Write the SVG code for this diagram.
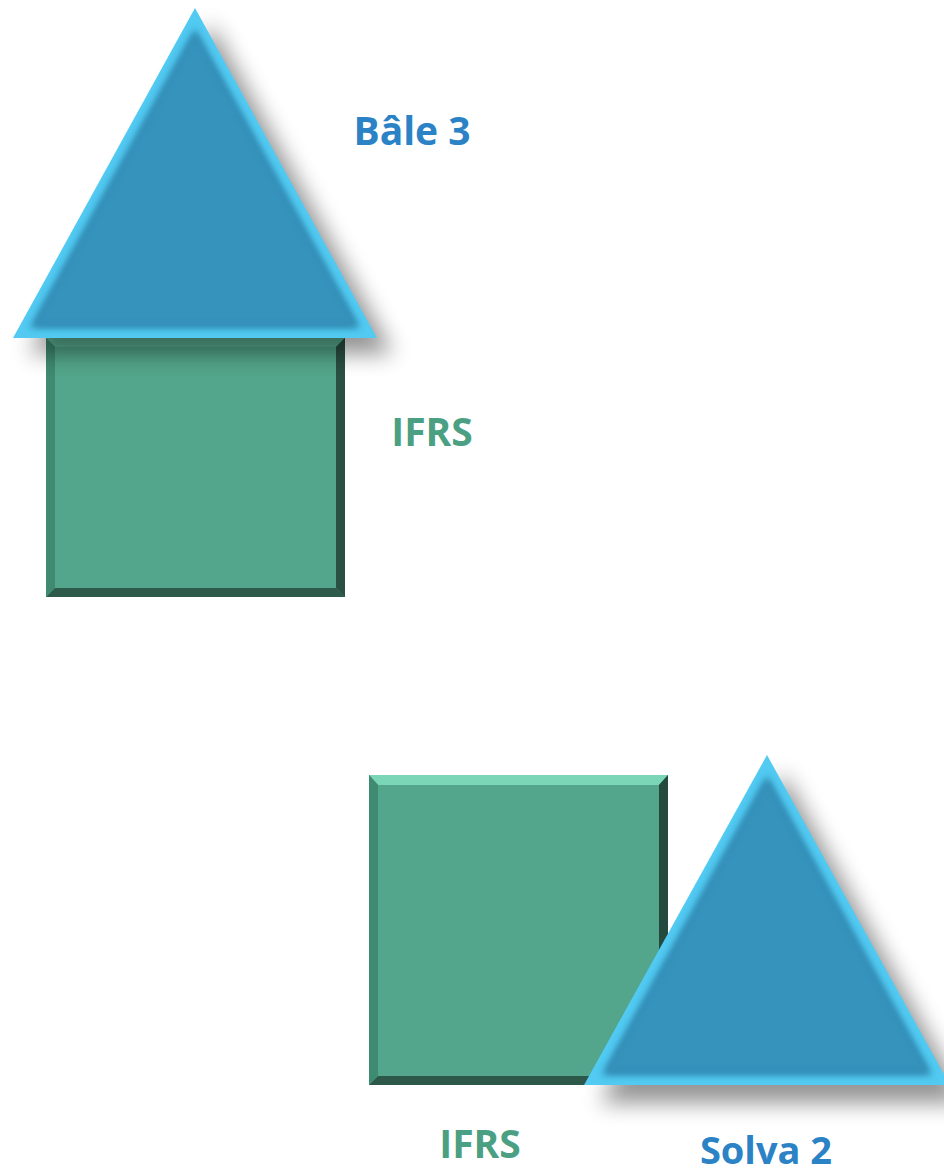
<svg xmlns="http://www.w3.org/2000/svg" width="944" height="1175" viewBox="0 0 944 1175">
<style>
.lbl{font-family:"Open Sans","Liberation Sans",sans-serif;font-weight:bold;font-size:39px;text-anchor:middle}
.blue{fill:#2b83c6}
.green{fill:#4b9f82}
.triOut{fill:#52caf2}
.triIn{fill:#3593bc}
.sqFace{fill:#53a68b}
</style>
<defs>
<filter id="shadow" x="-25%" y="-25%" width="160%" height="160%">
<feGaussianBlur stdDeviation="11"/>
</filter>
<filter id="soft" x="-10%" y="-10%" width="120%" height="120%">
<feGaussianBlur stdDeviation="3.5"/>
</filter>
<clipPath id="clipT1"><polygon points="195,8 13,338 377,338"/></clipPath>
<clipPath id="clipT2"><polygon points="767,755 584,1085 950,1085"/></clipPath>
</defs>
<rect width="944" height="1175" fill="#ffffff"/>

<g id="square-top">
<rect x="46" y="338" width="299" height="259" fill="#3f8a71"/>
<polygon points="46,338 345,338 336,347 55,347" fill="#5fb89a"/>
<polygon points="345,338 345,597 336,588 336,347" fill="#2a4f43"/>
<polygon points="46,597 345,597 336,588 55,588" fill="#2e5a4b"/>
<polygon points="46,338 55,347 55,588 46,597" fill="#3f8a71"/>
<rect x="55" y="347" width="281" height="241" class="sqFace"/>
</g>

<g id="triangle-top">
<polygon points="195,8 13,338 377,338" transform="translate(16,16)" fill="#000" opacity="0.42" filter="url(#shadow)"/>
<polygon points="195,8 13,338 377,338" class="triOut"/>
<g clip-path="url(#clipT1)">
<polygon points="195,29 30,328 360,328" fill="#2e86ae" filter="url(#soft)"/>
<polygon points="195,33 34,325 356,325" class="triIn" filter="url(#soft)"/>
</g>
</g>

<g id="label-bale3"><text x="412" y="145" class="lbl blue">Bâle 3</text></g>
<g id="label-ifrs-top"><text x="432" y="446" class="lbl green">IFRS</text></g>

<g id="square-bottom">
<rect x="369" y="775" width="299" height="310" fill="#3f8a71"/>
<polygon points="369,775 668,775 659,785 378,785" fill="#7bd6b7"/>
<polygon points="668,775 668,1085 659,1076 659,785" fill="#234a3d"/>
<polygon points="369,1085 668,1085 659,1076 378,1076" fill="#2d5749"/>
<polygon points="369,775 378,785 378,1076 369,1085" fill="#3e8b71"/>
<rect x="378" y="785" width="281" height="291" class="sqFace"/>
</g>

<g id="triangle-bottom">
<polygon points="767,755 584,1085 950,1085" transform="translate(16,18)" fill="#000" opacity="0.42" filter="url(#shadow)"/>
<polygon points="767,755 584,1085 950,1085" class="triOut"/>
<g clip-path="url(#clipT2)">
<polygon points="767,776 602,1075 932,1075" fill="#2e86ae" filter="url(#soft)"/>
<polygon points="767,780 606,1072 928,1072" class="triIn" filter="url(#soft)"/>
</g>
</g>

<g id="label-ifrs-bottom"><text x="480" y="1158" class="lbl green">IFRS</text></g>
<g id="label-solva2"><text x="766" y="1164" class="lbl blue" style="font-size:38px">Solva 2</text></g>
</svg>
